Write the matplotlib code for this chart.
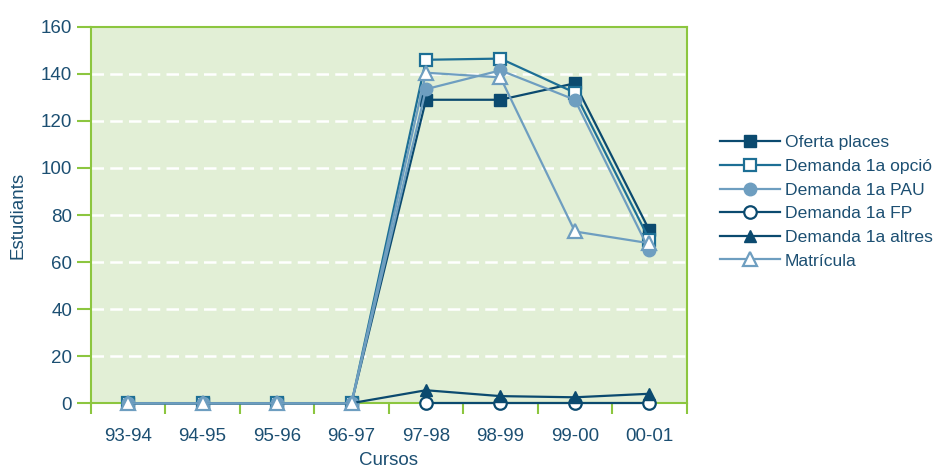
import numpy as np
import matplotlib
matplotlib.use("Agg")
import matplotlib.pyplot as plt

plt.rcParams['font.family'] = ['Liberation Sans', 'DejaVu Sans']

# Data
cursos = ['93-94', '94-95', '95-96', '96-97', '97-98', '98-99', '99-00', '00-01']
oferta = [0, 0, 0, 0, 129, 129, 136, 73.5]
demanda_opcio = [0, 0, 0, 0, 146, 146.5, 132, 69.5]
demanda_pau = [0, 0, 0, 0, 133.5, 141.5, 129, 65]
demanda_fp = [np.nan, np.nan, np.nan, np.nan, 0, 0, 0, 0]
demanda_altres = [0, 0, 0, 0, 5.5, 3, 2.5, 4]
matricula = [0, 0, 0, 0, 140.5, 138.5, 73, 68]

dark = '#0b4a6f'
mid = '#1d6f95'
light = '#6e9ec0'
txt = '#1c4f72'
green = '#8cc63f'
bg = '#e2efd6'

fig = plt.figure(figsize=(9.47, 4.71), dpi=100)
ax = fig.add_axes([0.096, 0.144, 0.629, 0.799])
ax.set_facecolor(bg)

x = np.arange(len(cursos))
ms = 9
common = dict(lw=1.6, clip_on=False, zorder=3)
ax.plot(x, oferta, color=dark, marker='s', ms=ms, mfc=dark, mec=dark, label='Oferta places', **common)
ax.plot(x, demanda_opcio, color=mid, marker='s', ms=ms, mfc='white', mec=mid, mew=1.6, label='Demanda 1a opció', **common)
ax.plot(x, demanda_pau, color=light, marker='o', ms=ms, mfc=light, mec=light, label='Demanda 1a PAU', **common)
ax.plot(x, demanda_fp, color=dark, marker='o', ms=ms, mfc='white', mec=dark, mew=1.6, label='Demanda 1a FP', **common)
ax.plot(x, demanda_altres, color=dark, marker='^', ms=ms, mfc=dark, mec=dark, label='Demanda 1a altres', **common)
ax.plot(x, matricula, color=light, marker='^', ms=ms + 1, mfc='white', mec=light, mew=1.6, label='Matrícula', **common)

ax.set_xlim(-0.5, 7.5)
ax.set_ylim(0, 160)
ax.set_yticks(range(0, 161, 20))
ax.set_xticks(x)
ax.set_xticklabels(cursos)
ax.set_xticks(np.arange(-0.5, 7.6, 1), minor=True)

for y in range(20, 160, 20):
    ax.axhline(y, color='white', lw=1.8, ls=(0, (5, 2.5)), zorder=0.5)

for s in ax.spines.values():
    s.set_color(green)
    s.set_linewidth(1.5)

ax.tick_params(axis='y', colors=green, length=10, width=1.5, labelcolor=txt, labelsize=13.5)
ax.tick_params(axis='x', which='major', length=0, labelcolor=txt, labelsize=13.5, pad=18)
ax.tick_params(axis='x', which='minor', colors=green, length=8, width=1.5)

ax.set_xlabel('Cursos', color=txt, fontsize=13.5, labelpad=5)
ax.set_ylabel('Estudiants', color=txt, fontsize=13.5, labelpad=10)

leg = ax.legend(loc='center left', bbox_to_anchor=(1.03, 0.535), frameon=False,
                fontsize=12.6, handlelength=3.4, labelspacing=0.48, handletextpad=0.3)
for t in leg.get_texts():
    t.set_color(txt)

fig.savefig('out.png', dpi=100)
